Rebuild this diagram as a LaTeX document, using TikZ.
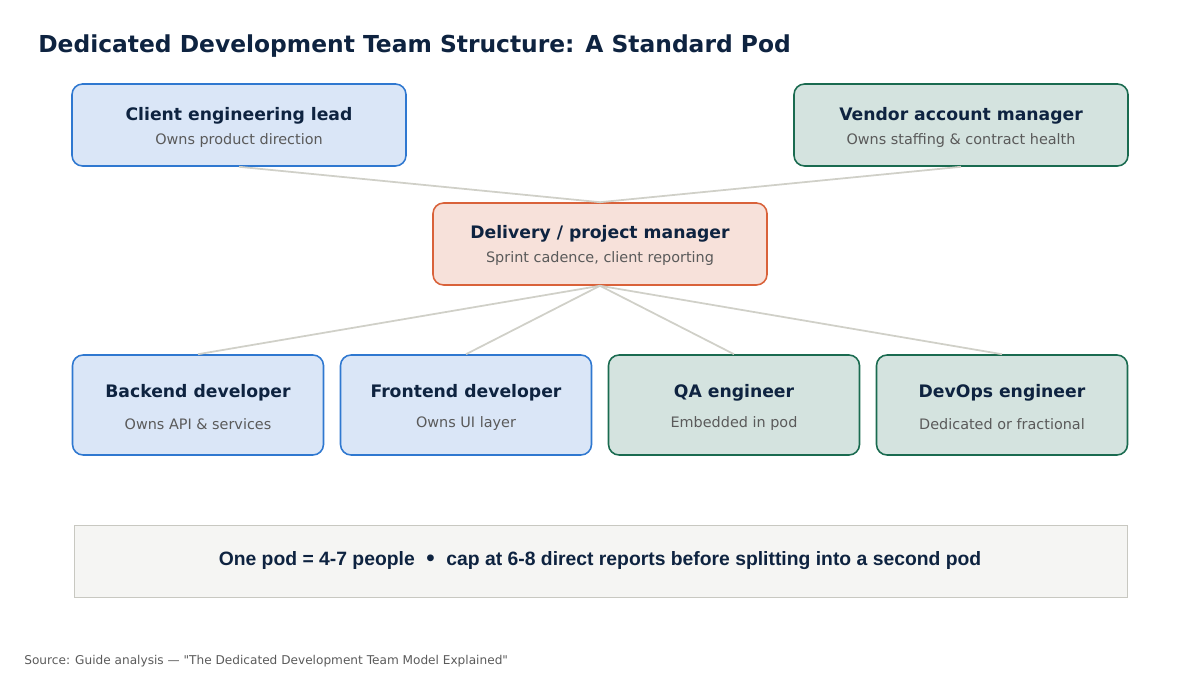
\documentclass[tikz,border=0pt]{standalone}
\usepackage{fontspec}
\setmainfont{DejaVu Sans}
\newfontfamily\arialf{Liberation Sans}
\begin{document}
\begin{tikzpicture}[x=0.02cm,y=-0.02cm,
 box/.style={draw,rounded corners=6pt,line width=0.9pt,minimum width=#1*0.02cm,align=center,inner sep=0pt},
 blue/.style={fill=bfill,draw=bline},
 green/.style={fill=gfill,draw=gline},
 ttl/.style={font=\fontsize{9.8}{11}\selectfont\bfseries,text=navy},
 sub/.style={font=\fontsize{8.2}{10}\selectfont,text=subg},
 link/.style={draw=linec,line width=1pt}]
\definecolor{bfill}{HTML}{DAE6F7}\definecolor{bline}{HTML}{2F78D0}
\definecolor{gfill}{HTML}{D4E3DF}\definecolor{gline}{HTML}{1A6B50}
\definecolor{ofill}{HTML}{F7E1DA}\definecolor{oline}{HTML}{D9623A}
\definecolor{navy}{HTML}{0E2340}\definecolor{subg}{HTML}{5A5A5A}
\definecolor{linec}{HTML}{D0D0C8}
\useasboundingbox (0,0) rectangle (1200,675);
\node[anchor=west,font=\fontsize{13.3}{15}\selectfont\bfseries,text=navy,inner sep=0pt] (title) at (38,46) {Dedicated Development Team Structure: A Standard Pod};
% boxes
\node[box=334,blue,minimum height=82*0.02cm] (cl) at (239,125) {};
\node[box=334,green,minimum height=82*0.02cm] (vm) at (961,125) {};
\node[box=334,fill=ofill,draw=oline,minimum height=82*0.02cm] (dm) at (600,244) {};
\node[box=251,blue,minimum height=100*0.02cm] (be) at (198,405) {};
\node[box=251,blue,minimum height=100*0.02cm] (fe) at (466,405) {};
\node[box=251,green,minimum height=100*0.02cm] (qa) at (734,405) {};
\node[box=251,green,minimum height=100*0.02cm] (do) at (1002,405) {};
% texts
\node[ttl] (t1) at (239,116) {Client engineering lead};
\node[sub] (s1) at (239,141) {Owns product direction};
\node[ttl] (t2) at (961,116) {Vendor account manager};
\node[sub] (s2) at (961,141) {Owns staffing \& contract health};
\node[ttl] (t3) at (600,234) {Delivery / project manager};
\node[sub] (s3) at (600,259) {Sprint cadence, client reporting};
\node[ttl] (t4) at (198,393) {Backend developer};
\node[sub] (s4) at (198,424) {Owns API \& services};
\node[ttl] (t5) at (466,393) {Frontend developer};
\node[sub] (s5) at (466,424) {Owns UI layer};
\node[ttl] (t6) at (734,393) {QA engineer};
\node[sub] (s6) at (734,424) {Embedded in pod};
\node[ttl] (t7) at (1002,393) {DevOps engineer};
\node[sub] (s7) at (1002,424) {Dedicated or fractional};
% links
\draw[link] (cl.south) -- (dm.north);
\draw[link] (vm.south) -- (dm.north);
\foreach \n in {be,fe,qa,do} \draw[link] (dm.south) -- (\n.north);
% banner
\node[draw=linec!90!gray,fill={rgb,255:red,245;green,245;blue,243},minimum width=1053*0.02cm,minimum height=72*0.02cm,inner sep=0pt] (ban) at (600.5,561) {};
\node[font=\arialf\fontsize{11}{13}\selectfont\bfseries,text=navy] (bt) at (600,561) {One pod = 4-7 people\enspace{\fontspec{DejaVu Sans}•}\enspace cap at 6-8 direct reports before splitting into a second pod};
\node[anchor=west,font=\fontsize{6.9}{8}\selectfont,text=subg,inner sep=0pt] (src) at (24,661) {Source: Guide analysis — \textquotedbl The Dedicated Development Team Model Explained\textquotedbl};
\end{tikzpicture}
\end{document}
